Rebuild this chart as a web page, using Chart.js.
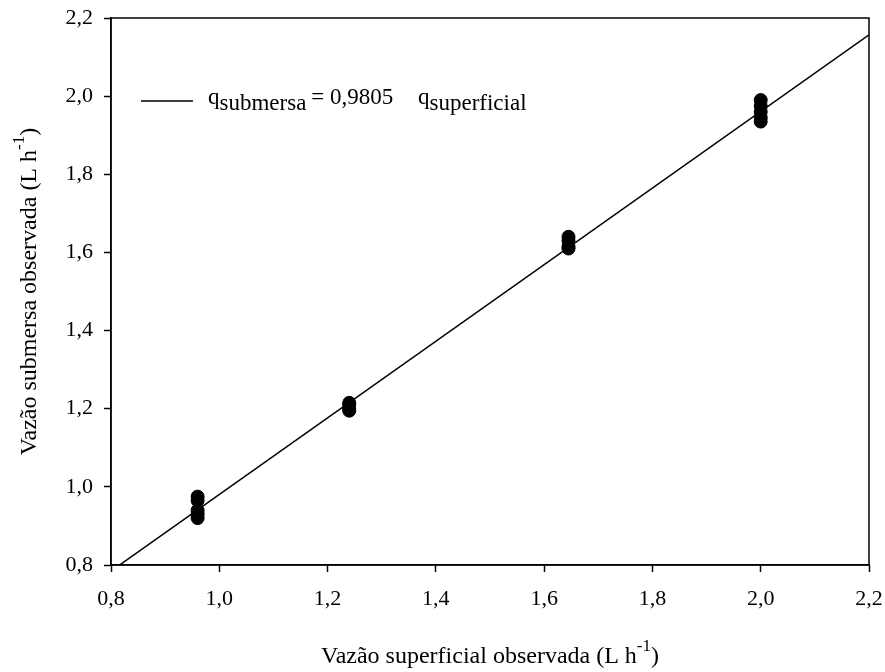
<!DOCTYPE html>
<html>
<head>
<meta charset="utf-8">
<script src="https://cdn.jsdelivr.net/npm/chart.js@4.4.1/dist/chart.umd.min.js"></script>
<style>
  html, body { margin: 0; padding: 0; background: #fff; }
  #wrap { width: 885px; height: 672px; }
</style>
</head>
<body>
<div id="wrap"><canvas id="c1" width="885" height="672"></canvas></div>
<script>
// observed flow: surface (x) vs submerged (y), L h-1
var vazaoSuperficial = [0.96, 0.96, 0.96, 0.96, 0.96,
                        1.24, 1.24, 1.24, 1.24,
                        1.645, 1.645, 1.645, 1.645,
                        2.0, 2.0, 2.0, 2.0, 2.0];
var vazaoSubmersa = [0.975, 0.965, 0.94, 0.93, 0.92,
                     1.215, 1.21, 1.2, 1.195,
                     1.64, 1.63, 1.615, 1.61,
                     1.99, 1.975, 1.96, 1.945, 1.935];
// fitted line q_submersa = 0,9805 q_superficial
var retaX = [0.8, 2.2];
var retaY = [0.7844, 2.1571];
var xTicks = [0.8, 1.0, 1.2, 1.4, 1.6, 1.8, 2.0, 2.2];
var yTicks = [0.8, 1.0, 1.2, 1.4, 1.6, 1.8, 2.0, 2.2];

var FONT = '"Liberation Serif", "Times New Roman", serif';

function virgula(v) {
    return v.toFixed(1).replace('.', ',');
}

var pontos = vazaoSuperficial.map(function (x, i) { return { x: x, y: vazaoSubmersa[i] }; });
var reta = retaX.map(function (x, i) { return { x: x, y: retaY[i] }; });

var decor = {
    id: 'decor',
    afterDraw: function (chart) {
        var ctx = chart.ctx;
        var a = chart.chartArea;
        ctx.save();
        ctx.strokeStyle = '#000';
        ctx.lineWidth = 1.5;
        ctx.strokeRect(a.left, a.top, a.right - a.left, a.bottom - a.top);

        ctx.fillStyle = '#000';
        ctx.textBaseline = 'alphabetic';

        // legend
        ctx.beginPath();
        ctx.moveTo(141, 101);
        ctx.lineTo(193, 101);
        ctx.lineWidth = 1.5;
        ctx.stroke();
        ctx.font = '23px ' + FONT;
        ctx.textAlign = 'left';
        var x = 208;
        ctx.fillText('q', x, 104); x += ctx.measureText('q').width;
        ctx.fillText('submersa', x, 110); x += ctx.measureText('submersa').width + 5;
        ctx.fillText('= 0,9805', x, 104);
        x = 418;
        ctx.fillText('q', x, 104); x += ctx.measureText('q').width;
        ctx.fillText('superficial', x, 110);

        // x title
        var big = '24px ' + FONT, small = '17px ' + FONT;
        ctx.font = small;
        var wSup = ctx.measureText('-1').width;
        ctx.font = big;
        var t1 = 'Vazão superficial observada (L h';
        var w1 = ctx.measureText(t1).width;
        var w2 = ctx.measureText(')').width;
        var total = w1 + wSup + w2;
        var sx = (a.left + a.right) / 2 - total / 2;
        ctx.fillText(t1, sx, 663);
        ctx.fillText(')', sx + w1 + wSup, 663);
        ctx.font = small;
        ctx.fillText('-1', sx + w1, 651);

        // y title
        ctx.translate(36, (a.top + a.bottom) / 2);
        ctx.rotate(-Math.PI / 2);
        ctx.font = big;
        var t2 = 'Vazão submersa observada (L h';
        w1 = ctx.measureText(t2).width;
        total = w1 + wSup + w2;
        sx = -total / 2;
        ctx.fillText(t2, sx, 0);
        ctx.fillText(')', sx + w1 + wSup, 0);
        ctx.font = small;
        ctx.fillText('-1', sx + w1, -12);
        ctx.restore();
    }
};

var ctx = document.getElementById('c1');
var grafico = new Chart(ctx, {
    type: 'scatter',
    data: {
        datasets: [{
            label: 'observado',
            data: pontos,
            backgroundColor: '#000',
            borderColor: '#000',
            pointRadius: 6.5,
            pointHoverRadius: 6.5,
            showLine: false
        }, {
            label: 'ajuste',
            data: reta,
            showLine: true,
            borderColor: '#000',
            borderWidth: 1.5,
            pointRadius: 0,
            fill: false
        }]
    },
    options: {
        responsive: false,
        animation: false,
        layout: { padding: { top: 18, right: 16, left: 0, bottom: 0 } },
        plugins: {
            legend: { display: false },
            tooltip: { enabled: false }
        },
        scales: {
            x: {
                type: 'linear',
                min: 0.8,
                max: 2.2,
                afterBuildTicks: function (scale) {
                    scale.ticks = xTicks.map(function (v) { return { value: v }; });
                },
                afterFit: function (scale) {
                    scale.height = 107;
                    scale.paddingLeft = 0;
                    scale.paddingRight = 0;
                },
                grid: {
                    drawOnChartArea: false,
                    drawTicks: true,
                    tickLength: 7,
                    tickWidth: 1.5,
                    tickColor: '#000'
                },
                border: { display: true, color: '#000', width: 1.5 },
                ticks: {
                    color: '#000',
                    padding: 14,
                    maxRotation: 0,
                    font: { family: FONT, size: 22 },
                    callback: function (v) { return virgula(v); }
                }
            },
            y: {
                type: 'linear',
                min: 0.8,
                max: 2.2,
                afterBuildTicks: function (scale) {
                    scale.ticks = yTicks.map(function (v) { return { value: v }; });
                },
                afterFit: function (scale) {
                    scale.width = 111;
                    scale.paddingTop = 0;
                    scale.paddingBottom = 0;
                },
                grid: {
                    drawOnChartArea: false,
                    drawTicks: true,
                    tickLength: 7,
                    tickWidth: 1.5,
                    tickColor: '#000'
                },
                border: { display: true, color: '#000', width: 1.5 },
                ticks: {
                    color: '#000',
                    padding: 11,
                    font: { family: FONT, size: 22 },
                    callback: function (v) { return virgula(v); }
                }
            }
        }
    },
    plugins: [decor]
});
</script>
</body>
</html>
